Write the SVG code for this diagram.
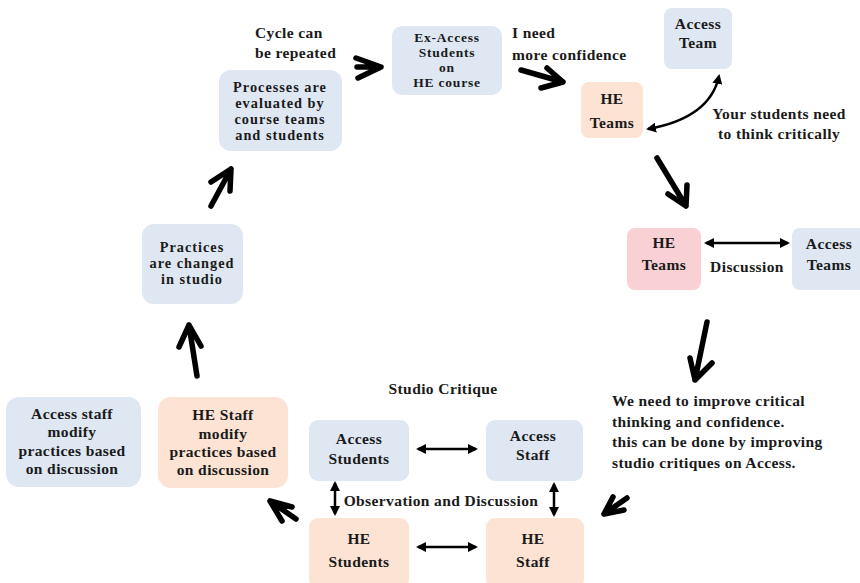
<svg xmlns="http://www.w3.org/2000/svg" width="860" height="583" viewBox="0 0 860 583">
<defs>
<style>
text{font-family:"Liberation Serif","Times New Roman",serif;font-weight:bold;font-size:15.5px;letter-spacing:0.4px;fill:#1a1a1a}
.c{text-anchor:middle}
.s{font-size:14.3px;letter-spacing:1px}
.xs{font-size:13.5px;letter-spacing:0.8px}
.blue{fill:#dee7f2}
.peach{fill:#fce3d4}
.pink{fill:#f9d0d3}
.hand{fill:none;stroke:#000;stroke-width:5.5;stroke-linecap:round;stroke-linejoin:round}
.thin{fill:none;stroke:#000;stroke-width:2.5}
</style>
<marker id="ah" viewBox="0 0 10 10" refX="8" refY="5" markerWidth="4" markerHeight="4" orient="auto-start-reverse">
<path d="M0,0 L10,5 L0,10 z" fill="#000"/>
</marker>
</defs>
<rect width="860" height="583" fill="#fff"/>

<g id="ex-access">
<rect class="blue" x="392" y="26" width="110" height="69" rx="10"/>
<text class="c xs" x="447" y="42">Ex-Access</text>
<text class="c xs" x="447" y="57">Students</text>
<text class="c xs" x="447" y="72">on</text>
<text class="c xs" x="447" y="87">HE course</text>
</g>
<g id="processes">
<rect class="blue" x="219" y="70" width="123" height="81" rx="12"/>
<text class="c s" x="280" y="92">Processes are</text>
<text class="c s" x="280" y="108">evaluated by</text>
<text class="c s" x="280" y="124">course teams</text>
<text class="c s" x="280" y="140">and students</text>
</g>
<g id="cycle-label">
<text x="255" y="38">Cycle can</text>
<text x="255" y="58">be repeated</text>
</g>
<g id="confidence-label">
<text x="512" y="38">I need</text>
<text x="512" y="60">more confidence</text>
</g>
<g id="he-teams-top">
<rect class="peach" x="581" y="82" width="62" height="56" rx="8"/>
<text class="c" x="612" y="104">HE</text>
<text class="c" x="612" y="128">Teams</text>
</g>
<g id="access-team">
<rect class="blue" x="664" y="8" width="68" height="61" rx="8"/>
<text class="c" x="698" y="29">Access</text>
<text class="c" x="698" y="48">Team</text>
</g>
<g id="critical-label">
<text class="c" x="779" y="119">Your students need</text>
<text class="c" x="779" y="139">to think critically</text>
</g>
<g id="he-teams-mid">
<rect class="pink" x="627" y="228" width="74" height="62" rx="8"/>
<text class="c" x="664" y="248">HE</text>
<text class="c" x="664" y="270">Teams</text>
</g>
<g id="access-teams">
<rect class="blue" x="792" y="228" width="80" height="62" rx="8"/>
<text class="c" x="829" y="249">Access</text>
<text class="c" x="829" y="270">Teams</text>
</g>
<g id="discussion-label">
<text class="c" x="747" y="272">Discussion</text>
</g>
<g id="improve-label">
<text x="612" y="406">We need to improve critical</text>
<text x="612" y="427">thinking and confidence.</text>
<text x="612" y="447">this can be done by improving</text>
<text x="612" y="468">studio critiques on Access.</text>
</g>
<g id="studio-critique-label">
<text class="c" x="443" y="394">Studio Critique</text>
</g>
<g id="access-students">
<rect class="blue" x="309" y="420" width="100" height="61" rx="9"/>
<text class="c" x="359" y="444">Access</text>
<text class="c" x="359" y="464">Students</text>
</g>
<g id="access-staff">
<rect class="blue" x="486" y="420" width="97" height="61" rx="9"/>
<text class="c" x="533" y="441">Access</text>
<text class="c" x="533" y="460">Staff</text>
</g>
<g id="he-students">
<rect class="peach" x="309" y="518" width="100" height="70" rx="9"/>
<text class="c" x="359" y="544">HE</text>
<text class="c" x="359" y="567">Students</text>
</g>
<g id="he-staff">
<rect class="peach" x="486" y="518" width="98" height="70" rx="9"/>
<text class="c" x="533" y="544">HE</text>
<text class="c" x="533" y="567">Staff</text>
</g>
<g id="observation-label">
<text class="c" x="441" y="506">Observation and Discussion</text>
</g>
<g id="access-staff-modify">
<rect class="blue" x="6" y="397" width="135" height="90" rx="13"/>
<text class="c" x="72" y="419">Access staff</text>
<text class="c" x="72" y="437">modify</text>
<text class="c" x="72" y="456">practices based</text>
<text class="c" x="72" y="474">on discussion</text>
</g>
<g id="he-staff-modify">
<rect class="peach" x="158" y="397" width="130" height="91" rx="13"/>
<text class="c" x="223" y="420">HE Staff</text>
<text class="c" x="223" y="439">modify</text>
<text class="c" x="223" y="457">practices based</text>
<text class="c" x="223" y="475">on discussion</text>
</g>
<g id="practices">
<rect class="blue" x="142" y="224" width="101" height="80" rx="12"/>
<text class="c s" x="192" y="252">Practices</text>
<text class="c s" x="192" y="268">are changed</text>
<text class="c s" x="192" y="284">in studio</text>
</g>

<g id="connectors">
<path class="hand" d="M357,67 L381,67 M356,58 L381,67 L358,78"/>
<path class="hand" d="M521,70 L563,82 M547,68 L563,82 L541,88"/>
<path class="hand" d="M657,158 L686,206 M668,194 L686,206 L687,185"/>
<path class="hand" d="M707,322 L695,380 M690,358 L695,380 L712,363"/>
<path class="hand" d="M627,498 L604,514 M613,497 L604,514 L624,510"/>
<path class="hand" d="M296,519 L270,501 M282,521 L270,501 L292,507"/>
<path class="hand" d="M197,376 L189,325 M179,347 L189,325 L201,346"/>
<path class="hand" d="M211,206 L231,169 M211,182 L231,169 L230,191"/>
<path class="thin" d="M648,129 Q710,118 719,76" marker-start="url(#ah)" marker-end="url(#ah)"/>
<path class="thin" d="M706,243 L788,243" marker-start="url(#ah)" marker-end="url(#ah)"/>
<path class="thin" d="M418,449 L476,449" marker-start="url(#ah)" marker-end="url(#ah)"/>
<path class="thin" d="M418,547 L476,547" marker-start="url(#ah)" marker-end="url(#ah)"/>
<path class="thin" d="M335,483 L335,514" marker-start="url(#ah)" marker-end="url(#ah)"/>
<path class="thin" d="M554,484 L554,515" marker-start="url(#ah)" marker-end="url(#ah)"/>
</g>
</svg>
